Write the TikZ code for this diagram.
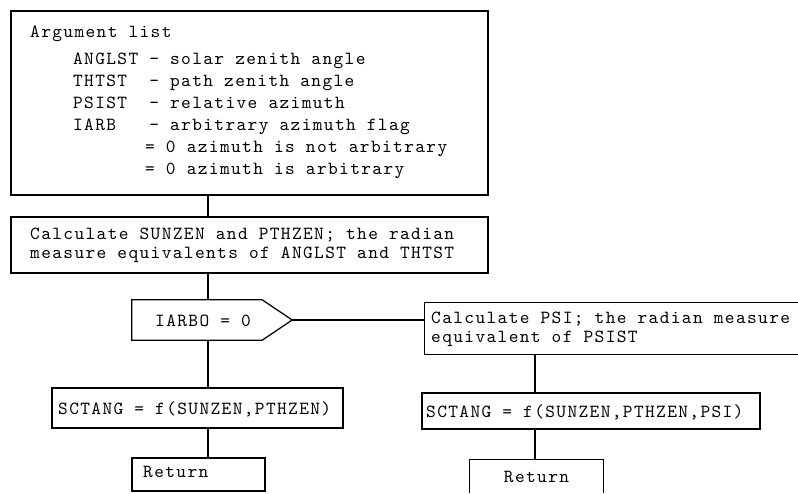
\documentclass[tikz,border=0pt]{standalone}
\usepackage{fontspec}
% typewriter text: Latin Modern Mono, spaced out to a 10-pitch grid
\newfontfamily\twfam{lmmono10-regular.otf}[LetterSpace=7.4]
\newcommand\twfont{\twfam\fontsize{18.5}{19}\selectfont}
\newcommand\twfontwide{\twfam\fontsize{18.5}{22}\selectfont}
\begin{document}
\begin{tikzpicture}[x=1pt,y=-1pt,
  frame/.style={draw=black, line width=1.25pt, inner sep=0pt},
  shell/.style={inner sep=0pt},
  lbl/.style={anchor=base west, inner sep=0pt, align=left, font=\twfont},
  link/.style={draw=black, line width=1.25pt}]
\useasboundingbox (0,0) rectangle (798,493);

% columns of the two vertical flow lines
\coordinate (spine) at (208,0);
\coordinate (branch) at (535,0);

% argument list (base of a multi-line label = its last line)
\node[frame, minimum width=477pt, minimum height=184pt] (args) at (249.5,103) {};
\node[lbl, font=\twfontwide] (argtext) at (30,174) {Argument list\\[5pt]
\phantom{0000}ANGLST - solar zenith angle\\
\phantom{0000}THTST~~- path zenith angle\\
\phantom{0000}PSIST~~- relative azimuth\\
\phantom{0000}IARB~~~- arbitrary azimuth flag\\
\phantom{0000000000}\hspace{0.3em}= 0 azimuth is not arbitrary\\
\phantom{0000000000}\hspace{0.3em}= 0 azimuth is arbitrary};

% conversion of the zenith angles
\node[frame, minimum width=477pt, minimum height=56pt] (conv) at (249.5,245) {};
\node[lbl] (convtext) at (30,258) {Calculate SUNZEN and PTHZEN; the radian\\
measure equivalents of ANGLST and THTST};

% decision on the azimuth flag
\node[shell, minimum width=160pt, minimum height=40pt] (dec) at (212,320) {};
\draw[link] (dec.north west) -- ([xshift=-30pt]dec.north east) -- (dec.east)
  -- ([xshift=-30pt]dec.south east) -- (dec.south west) -- cycle;
\node[lbl] (dectext) at (155,326) {IARBO = 0};

% conversion of the azimuth (open on the right)
\node[shell, minimum width=373pt, minimum height=51pt] (psi) at (611.5,328.5) {};
\draw[link] (psi.north east) -- (psi.north west) -- (psi.south west) -- (psi.south east);
\node[lbl] (psitext) at (431,342) {Calculate PSI; the radian measure\\
equivalent of PSIST};

% scattering angle
\node[frame, minimum width=291pt, minimum height=40pt] (sctL) at (197.5,408) {};
\node[lbl] (sctLtext) at (58,414) {SCTANG = f(SUNZEN,PTHZEN)};
\node[frame, minimum width=338pt, minimum height=36pt] (sctR) at (591,411) {};
\node[lbl] (sctRtext) at (426,417) {SCTANG = f(SUNZEN,PTHZEN,PSI)};

% returns
\node[frame, minimum width=133pt, minimum height=33pt] (retL) at (198.5,474.5) {};
\node[lbl] (retLtext) at (143,477) {Return};
\node[shell, minimum width=133pt, minimum height=33pt, font=\twfont] (retR) at (536.5,476.5) {Return};
\draw[link] (retR.south west) -- (retR.north west) -- (retR.north east) -- (retR.south east);

% flow lines
\draw[link] (args.south -| spine) -- (conv.north -| spine);
\draw[link] (conv.south -| spine) -- (dec.north -| spine);
\draw[link] (dec.east) -- (dec.east -| psi.west);
\draw[link] (dec.south -| spine) -- (sctL.north -| spine);
\draw[link] (sctL.south -| spine) -- (retL.north -| spine);
\draw[link] (psi.south -| branch) -- (sctR.north -| branch);
\draw[link] (sctR.south -| branch) -- (retR.north -| branch);
\end{tikzpicture}
\end{document}
